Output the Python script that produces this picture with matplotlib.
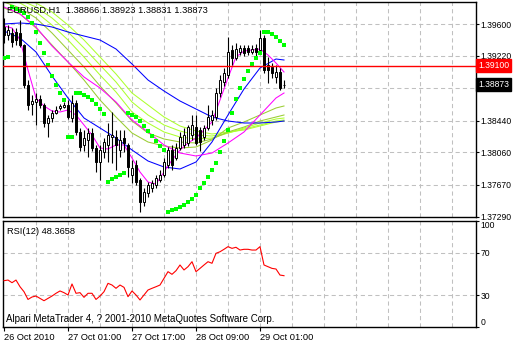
import numpy as np
import matplotlib.pyplot as plt
from matplotlib.transforms import blended_transform_factory

plt.rcParams['font.family'] = ['Liberation Sans', 'DejaVu Sans']

# EURUSD H1 candles, bar 0 = 26 Oct 2010 09:00
bars = np.arange(71)
opens = [1.3956, 1.3947, 1.3949, 1.3950, 1.3949, 1.3935, 1.3887, 1.3864, 1.3866, 1.3870,
         1.3863, 1.3841, 1.3847, 1.3853, 1.3859, 1.3860, 1.3863, 1.3847, 1.3865, 1.3830,
         1.3815, 1.3821, 1.3829, 1.3811, 1.3794, 1.3806, 1.3815, 1.3824, 1.3824, 1.3809,
         1.3823, 1.3815, 1.3779, 1.3791, 1.3773, 1.3746, 1.3757, 1.3763, 1.3767, 1.3773,
         1.3779, 1.3791, 1.3809, 1.3799, 1.3811, 1.3815, 1.3817, 1.3827, 1.3836, 1.3833,
         1.3824, 1.3835, 1.3845, 1.3848, 1.3877, 1.3890, 1.3899, 1.3929, 1.3919, 1.3926,
         1.3931, 1.3931, 1.3926, 1.3931, 1.3929, 1.3943, 1.3911, 1.3908, 1.3896, 1.3902, 1.38866]
highs = [1.3967, 1.3959, 1.3955, 1.3955, 1.3965, 1.3936, 1.3893, 1.3875, 1.3877, 1.3875,
         1.3865, 1.3851, 1.3857, 1.3861, 1.3864, 1.3866, 1.3869, 1.3875, 1.3869, 1.3835,
         1.3833, 1.3835, 1.3835, 1.3815, 1.3815, 1.3823, 1.3841, 1.3854, 1.3833, 1.3833,
         1.3833, 1.3817, 1.3797, 1.3797, 1.3775, 1.3763, 1.3770, 1.3773, 1.3779, 1.3785,
         1.3799, 1.3813, 1.3815, 1.3817, 1.3830, 1.3835, 1.3839, 1.3851, 1.3851, 1.3836,
         1.3839, 1.3863, 1.3857, 1.3883, 1.3899, 1.3907, 1.3944, 1.3935, 1.3937, 1.3935,
         1.3935, 1.3935, 1.3935, 1.3936, 1.3953, 1.3947, 1.3920, 1.3913, 1.3911, 1.3907, 1.38923]
lows = [1.3937, 1.3941, 1.3932, 1.3935, 1.3932, 1.3883, 1.3857, 1.3851, 1.3839, 1.3859,
        1.3836, 1.3825, 1.3842, 1.3852, 1.3857, 1.3859, 1.3846, 1.3842, 1.3827, 1.3808,
        1.3808, 1.3800, 1.3808, 1.3782, 1.3773, 1.3799, 1.3794, 1.3793, 1.3785, 1.3800,
        1.3806, 1.3776, 1.3769, 1.3767, 1.3734, 1.3742, 1.3753, 1.3758, 1.3763, 1.3770,
        1.3776, 1.3787, 1.3785, 1.3797, 1.3809, 1.3811, 1.3814, 1.3821, 1.3815, 1.3808,
        1.3821, 1.3833, 1.3839, 1.3845, 1.3872, 1.3886, 1.3895, 1.3911, 1.3917, 1.3923,
        1.3922, 1.3923, 1.3924, 1.3922, 1.3926, 1.3901, 1.3889, 1.3895, 1.3889, 1.3881, 1.38831]
closes = [1.3947, 1.3953, 1.3938, 1.3941, 1.3935, 1.3887, 1.3863, 1.3868, 1.3870, 1.3863,
          1.3841, 1.3847, 1.3853, 1.3857, 1.3862, 1.3863, 1.3848, 1.3865, 1.3830, 1.3812,
          1.3823, 1.3829, 1.3811, 1.3794, 1.3809, 1.3818, 1.3827, 1.3827, 1.3815, 1.3821,
          1.3817, 1.3788, 1.3787, 1.3770, 1.3746, 1.3758, 1.3767, 1.3769, 1.3775, 1.3779,
          1.3794, 1.3809, 1.3791, 1.3811, 1.3824, 1.3827, 1.3836, 1.3839, 1.3817, 1.3818,
          1.3835, 1.3848, 1.3851, 1.3877, 1.3893, 1.3901, 1.3926, 1.3919, 1.3930, 1.3931,
          1.3925, 1.3926, 1.3930, 1.3926, 1.3943, 1.3905, 1.3905, 1.3901, 1.3902, 1.3883, 1.38873]

# Parabolic SAR, one dot per bar
sar = [1.39192, 1.39204, 1.39804, 1.39780, 1.39756, 1.39732, 1.39684, 1.39612, 1.39504, 1.39372,
       1.39252, 1.39108, 1.38976, 1.38868, 1.38772, 1.38688, 1.38244, 1.38244, 1.38772, 1.38772,
       1.38748, 1.38724, 1.38688, 1.38640, 1.38580, 1.38520, 1.37704, 1.37740, 1.37764, 1.37788,
       1.37812, 1.38532, 1.38508, 1.38484, 1.38436, 1.38376, 1.38316, 1.38256, 1.38196, 1.38136,
       1.38088, 1.37344, 1.37368, 1.37380, 1.37404, 1.37428, 1.37464, 1.37500, 1.37548, 1.37632,
       1.37692, 1.37764, 1.37848, 1.37932, 1.38064, 1.38196, 1.38328, 1.38532, 1.38700, 1.38832,
       1.38940, 1.39036, 1.39120, 1.39192, 1.39252, 1.39504, 1.39504, 1.39480, 1.39444, 1.39396, 1.39348]

# moving averages, read every 4 bars
ma_bars = [0, 4, 8, 12, 16, 20, 24, 28, 32, 36, 40, 44, 48, 52, 56, 60, 64, 68, 70]
blue_slow = [1.39600, 1.39612, 1.39600, 1.39564, 1.39504, 1.39456, 1.39408, 1.39300, 1.39120, 1.38928,
             1.38796, 1.38676, 1.38580, 1.38484, 1.38436, 1.38412, 1.38412, 1.38424, 1.38436]
blue_mid = [1.39516, 1.39432, 1.39264, 1.38976, 1.38712, 1.38472, 1.38352, 1.38232, 1.38088, 1.37956,
            1.37884, 1.37860, 1.37944, 1.38184, 1.38508, 1.38820, 1.39072, 1.39180, 1.39168]
magenta_slow = [1.39804, 1.39720, 1.39564, 1.39336, 1.39144, 1.38964, 1.38832, 1.38664, 1.38448, 1.38304,
                1.38148, 1.38052, 1.38016, 1.38052, 1.38172, 1.38304, 1.38508, 1.38712, 1.38772]
green_1 = [1.39792, 1.39720, 1.39552, 1.39348, 1.39144, 1.38928, 1.38688, 1.38484, 1.38292, 1.38184,
           1.38136, 1.38112, 1.38124, 1.38208, 1.38352, 1.38424, 1.38508, 1.38592, 1.38616]
green_2 = [1.39864, 1.39792, 1.39672, 1.39492, 1.39288, 1.39084, 1.38856, 1.38652, 1.38436, 1.38292,
           1.38220, 1.38184, 1.38172, 1.38220, 1.38304, 1.38364, 1.38436, 1.38484, 1.38508]
green_3 = [1.39912, 1.39852, 1.39744, 1.39588, 1.39408, 1.39204, 1.38988, 1.38784, 1.38544, 1.38412,
           1.38304, 1.38244, 1.38220, 1.38232, 1.38292, 1.38352, 1.38412, 1.38460, 1.38472]
green_4 = [1.39948, 1.39888, 1.39804, 1.39672, 1.39504, 1.39312, 1.39108, 1.38904, 1.38664, 1.38508,
           1.38388, 1.38316, 1.38268, 1.38256, 1.38292, 1.38340, 1.38388, 1.38436, 1.38448]
green_5 = [1.39984, 1.39924, 1.39852, 1.39744, 1.39588, 1.39408, 1.39204, 1.39000, 1.38772, 1.38628,
           1.38484, 1.38376, 1.38316, 1.38280, 1.38304, 1.38328, 1.38376, 1.38424, 1.38436]

# fast MA, read every 2 bars
fast_bars = list(range(0, 71, 2))
magenta_fast = [1.39576, 1.39552, 1.39408, 1.39048, 1.38712, 1.38616, 1.38556, 1.38544, 1.38568, 1.38508,
                1.38388, 1.38268, 1.38112, 1.38100, 1.38148, 1.38148, 1.37992, 1.37824, 1.37704, 1.37680,
                1.37824, 1.37968, 1.38088, 1.38172, 1.38232, 1.38328, 1.38424, 1.38688, 1.38952, 1.39204,
                1.39276, 1.39288, 1.39300, 1.39228, 1.39132, 1.39024]

rsi = [43.7, 44.3, 41.8, 44.3, 38.0, 33.3, 26.0, 28.3, 29.2, 27.0,
       24.8, 27.0, 29.2, 31.8, 34.0, 32.4, 30.2, 40.6, 31.8, 32.4,
       28.0, 31.8, 31.8, 26.0, 29.2, 33.3, 41.2, 39.6, 36.5, 39.6,
       37.4, 28.6, 34.0, 30.2, 25.5, 30.2, 34.9, 36.5, 38.0, 39.6,
       45.9, 52.2, 49.7, 53.1, 58.5, 53.8, 56.9, 61.6, 52.2, 55.3,
       58.5, 61.6, 60.1, 69.5, 71.0, 73.3, 75.8, 74.2, 75.2, 72.6,
       73.3, 73.3, 72.6, 72.6, 75.8, 58.5, 56.9, 55.3, 54.7, 49.0, 48.4]

price_grid = [1.39600, 1.39220, 1.38830, 1.38440, 1.38060, 1.37670, 1.37290]
price_labels = ['1.39600', '1.39220', '', '1.38440', '1.38060', '1.37670', '1.37290']
rsi_ticks = [100, 70, 30, 0]
time_ticks = [0, 16, 32, 48, 64]
time_labels = ['26 Oct 2010', '27 Oct 01:00', '27 Oct 17:00', '28 Oct 09:00', '29 Oct 01:00']
hline_price = 1.39100
last_price = 1.38873

W, H = 513, 344
fig = plt.figure(figsize=(W / 100, H / 100), dpi=100)
ax = fig.add_axes([3 / W, (H - 217) / H, 473 / W, 215 / H])
ax2 = fig.add_axes([3 / W, (H - 327) / H, 473 / W, 106 / H])

fs = 6.7
grid_kw = dict(color='#c0c0c0', lw=0.75, ls=(0, (4, 3)), zorder=0)
for a in (ax, ax2):
    a.set_xlim(-0.25, 118)
    for b in range(8, 113, 8):
        a.axvline(b, **grid_kw)
    for s in a.spines.values():
        s.set_color('black')
        s.set_linewidth(1.0)
    a.yaxis.tick_right()
    a.tick_params(axis='y', length=2.5, width=0.8, pad=0.8, labelsize=6.2, colors='black')

# main chart
ax.set_ylim(1.37284, 1.39864)
for p in price_grid:
    ax.axhline(p, **grid_kw)
ax.set_yticks(price_grid)
ax.set_yticklabels(price_labels)
ax.set_xticks([])

lw = 0.75
ax.plot(ma_bars, green_5, color='#adff2f', lw=lw, zorder=2)
ax.plot(ma_bars, green_4, color='#adff2f', lw=lw, zorder=2)
ax.plot(ma_bars, green_3, color='#adff2f', lw=lw, zorder=2)
ax.plot(ma_bars, green_2, color='#9acd32', lw=lw, zorder=2)
ax.plot(ma_bars, green_1, color='#9acd32', lw=lw, zorder=2)
ax.plot(ma_bars, blue_slow, color='#0000ff', lw=lw, zorder=2)
ax.plot(ma_bars, blue_mid, color='#0000ff', lw=lw, zorder=2)
ax.plot(ma_bars, magenta_slow, color='#ff00ff', lw=lw, zorder=2)
ax.plot(fast_bars, magenta_fast, color='#ff00ff', lw=lw, zorder=2)

o = np.array(opens)
c = np.array(closes)
up = c >= o
ax.vlines(bars, lows, highs, color='black', lw=0.8, zorder=3)
body_low = np.minimum(o, c)
body_h = np.abs(c - o)
ax.bar(bars[up], body_h[up], bottom=body_low[up], width=0.55,
       facecolor='white', edgecolor='black', lw=0.7, zorder=4)
ax.bar(bars[~up], body_h[~up], bottom=body_low[~up], width=0.55,
       facecolor='black', edgecolor='black', lw=0.7, zorder=4)

ax.plot(bars, sar, 's', color='#00ff00', ms=3.0, mew=0, zorder=5)

ax.axhline(hline_price, color='red', lw=1.0, zorder=6)

tr = blended_transform_factory(ax.transAxes, ax.transData)
ax.text(1.004, hline_price, '1.39100', transform=tr, color='white', fontsize=6.2,
        va='center', ha='left', zorder=10, clip_on=False,
        bbox=dict(facecolor='red', edgecolor='red', pad=1.3))
ax.text(1.004, last_price, '1.38873', transform=tr, color='white', fontsize=6.2,
        va='center', ha='left', zorder=10, clip_on=False,
        bbox=dict(facecolor='black', edgecolor='black', pad=1.3))

fig.text(7 / W, 1 - 10.5 / H, 'EURUSD,H1  1.38866 1.38923 1.38831 1.38873',
         fontsize=fs, va='center', ha='left')

# RSI panel
ax2.set_ylim(0, 100)
for v in (70, 30):
    ax2.axhline(v, **grid_kw)
ax2.plot(bars, rsi, color='red', lw=0.8, zorder=3)
ax2.set_yticks(rsi_ticks)
ax2.set_yticklabels(['100', '70', '30', '0'])
ylabels = ax2.get_yticklabels()
ylabels[0].set_va('top')
ylabels[-1].set_va('bottom')
ax2.set_xticks(time_ticks)
ax2.set_xticklabels(time_labels, ha='left', fontsize=fs)
ax2.tick_params(axis='x', length=3, width=0.8, pad=1)

fig.text(7 / W, 1 - 231 / H, 'RSI(12) 48.3658', fontsize=fs, va='center', ha='left')
fig.text(6 / W, 1 - 319 / H, 'Alpari MetaTrader 4, ? 2001-2010 MetaQuotes Software Corp.',
         fontsize=7.0, va='center', ha='left')

fig.savefig('out.png', dpi=100)
